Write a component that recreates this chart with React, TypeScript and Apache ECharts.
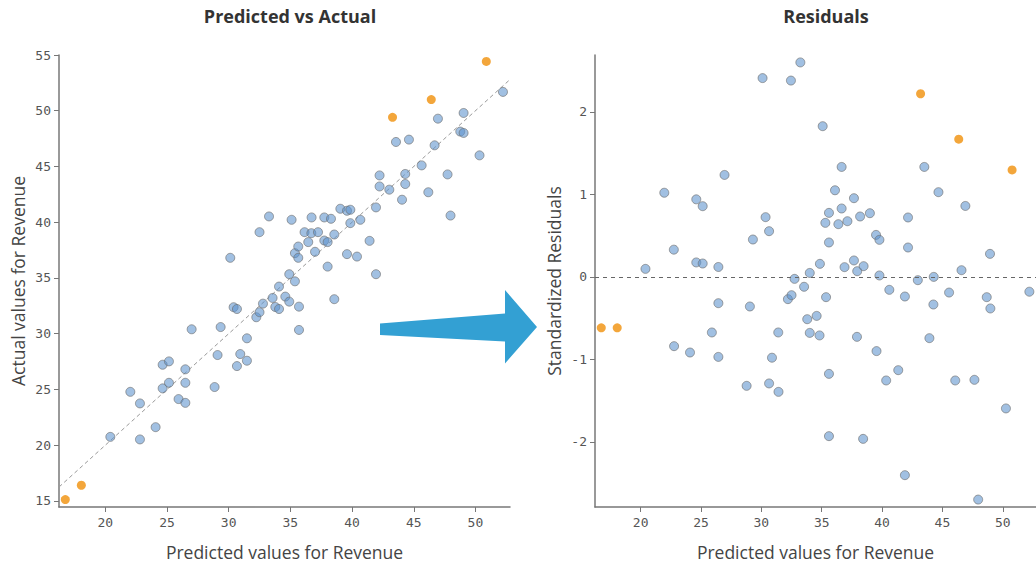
import React, { useEffect, useRef } from "react";
import * as echarts from "echarts";

// Predicted vs Actual: [predicted, actual]
const fitPoints: number[][] = [
  [20.41, 20.75], [22.03, 24.79], [22.81, 23.75], [22.81, 20.52], [24.08, 21.62],
  [24.65, 27.22], [24.65, 25.1], [25.16, 27.52], [25.16, 25.6], [25.94, 24.14],
  [26.49, 26.81], [26.49, 25.6], [26.49, 23.8], [27.0, 30.4], [28.86, 25.22],
  [29.1, 28.09], [29.35, 30.6], [30.13, 36.81], [30.4, 32.38], [30.67, 32.22],
  [30.67, 27.1], [30.94, 28.18], [31.48, 29.59], [31.48, 27.58], [32.24, 31.48],
  [32.5, 31.93], [32.5, 39.11], [32.78, 32.7], [33.27, 40.52], [33.56, 33.21],
  [33.78, 32.4], [34.08, 32.22], [34.08, 34.23], [34.59, 33.33], [34.91, 32.88],
  [34.91, 35.34], [35.1, 40.22], [35.37, 34.7], [35.37, 37.23], [35.64, 37.82],
  [35.64, 36.81], [35.7, 32.43], [35.7, 30.34], [36.15, 39.11], [36.45, 38.22],
  [36.7, 39.02], [36.72, 40.43], [37.0, 37.35], [37.24, 39.11], [37.75, 40.43],
  [37.75, 38.36], [38.02, 38.22], [38.02, 36.02], [38.29, 40.31], [38.56, 38.9],
  [38.56, 33.1], [39.05, 41.21], [39.59, 41.03], [39.59, 37.14], [39.86, 41.12],
  [39.86, 39.92], [40.4, 36.92], [40.67, 40.22], [41.42, 38.33], [41.94, 41.33],
  [41.94, 35.34], [42.23, 44.2], [42.23, 43.21], [43.02, 42.92], [43.56, 47.2],
  [44.05, 42.02], [44.31, 44.33], [44.31, 43.43], [44.61, 47.41], [45.64, 45.1],
  [46.18, 42.69], [46.69, 46.9], [46.96, 49.29], [47.74, 44.29], [47.98, 40.6],
  [48.77, 48.13], [49.04, 49.8], [49.04, 48.01], [50.33, 46.0], [52.23, 51.69],
];
const fitOutliers: number[][] = [
  [16.76, 15.13], [18.06, 16.41], [43.28, 49.41], [46.42, 51.0], [50.88, 54.42],
];

// Residuals: [predicted, standardized residual]
const residPoints: number[][] = [
  [20.4, 0.097], [21.96, 1.02], [22.75, 0.33], [22.77, -0.84], [24.09, -0.917],
  [24.61, 0.94], [24.61, 0.175], [25.14, 0.857], [25.14, 0.162], [25.9, -0.674],
  [26.44, 0.12], [26.44, -0.319], [26.44, -0.97], [26.95, 1.236], [28.78, -1.321],
  [29.05, -0.359], [29.3, 0.453], [30.1, 2.41], [30.35, 0.724], [30.64, 0.554],
  [30.64, -1.292], [30.88, -0.98], [31.4, -0.674], [31.42, -1.394], [32.2, -0.27],
  [32.45, 2.38], [32.5, -0.222], [32.75, -0.024], [33.23, 2.6], [33.54, -0.12],
  [33.8, -0.513], [34.01, 0.048], [34.01, -0.679], [34.58, -0.473], [34.82, -0.71],
  [34.85, 0.158], [35.08, 1.827], [35.3, 0.655], [35.36, -0.246], [35.6, 0.776],
  [35.6, 0.417], [35.6, -1.176], [35.6, -1.931], [36.1, 1.05], [36.38, 0.639],
  [36.65, 1.333], [36.65, 0.829], [36.89, 0.118], [37.13, 0.675], [37.67, 0.954],
  [37.67, 0.199], [37.92, -0.727], [37.94, 0.069], [38.18, 0.732], [38.43, -1.964],
  [38.47, 0.13], [38.99, 0.772], [39.5, 0.509], [39.54, -0.9], [39.78, 0.449],
  [39.78, 0.017], [40.34, -1.256], [40.6, -0.157], [41.34, -1.131], [41.89, -0.238],
  [41.89, -2.404], [42.15, 0.72], [42.15, 0.356], [42.96, -0.04], [43.5, 1.333],
  [43.92, -0.743], [44.25, -0.335], [44.28, 0.0], [44.67, 1.027], [45.55, -0.19],
  [46.06, -1.256], [46.58, 0.081], [46.9, 0.86], [47.65, -1.248], [47.96, -2.7],
  [48.67, -0.246], [48.94, 0.279], [48.97, -0.383], [50.26, -1.595], [52.2, -0.18],
];
const residOutliers: number[][] = [
  [16.74, -0.618], [18.06, -0.618], [43.19, 2.22], [46.35, 1.67], [50.77, 1.297],
];

const xTicks = [20, 25, 30, 35, 40, 45, 50];
const yTicksFit = [15, 20, 25, 30, 35, 40, 45, 50, 55];
const yTicksResid = [-2, -1, 0, 1, 2];
const identityLine = [16.25, 52.8];

const BLUE = "rgba(92,145,204,0.72)";
const ORANGE = "#f0900a";
const AXIS = "#777";
const MONO = "DejaVu Sans Mono";
const SANS = "Open Sans";

function valueAxis(gridIndex: number, min: number, max: number, ticks: number[], name: string, isY: boolean) {
  return {
    type: "value",
    gridIndex,
    min,
    max,
    name,
    nameLocation: "middle",
    nameGap: isY ? 32 : 36,
    nameTextStyle: { fontFamily: SANS, fontSize: 17.5, color: "#444" },
    splitLine: { show: false },
    axisLine: { show: true, onZero: false, lineStyle: { color: AXIS, width: 1.5 } },
    axisTick: { show: true, length: 5, lineStyle: { color: AXIS, width: 1 }, customValues: ticks },
    axisLabel: {
      fontFamily: MONO,
      fontSize: 13,
      color: "#555",
      margin: isY ? 8 : 9,
      customValues: ticks,
      showMinLabel: true,
      showMaxLabel: true,
    },
  };
}

const scatterStyle = (color: string, border: boolean) => ({
  color,
  borderColor: border ? "rgba(110,110,110,0.8)" : color,
  borderWidth: border ? 1 : 0,
});

const titleStyle = { fontFamily: SANS, fontSize: 18, fontWeight: "bold", color: "#333" };

export default function App() {
  const ref = useRef<HTMLDivElement>(null);
  useEffect(() => {
    document.body.style.margin = "0";
    if (!ref.current) return;
    const chart = echarts.init(ref.current, null, { renderer: "svg" });
    chart.setOption({
      animation: false,
      backgroundColor: "#fff",
      title: [
        { text: "Predicted vs Actual", left: 290, top: 7, padding: 0, textAlign: "center", textStyle: titleStyle },
        { text: "Residuals", left: 826, top: 7, padding: 0, textAlign: "center", textStyle: titleStyle },
      ],
      grid: [
        { left: 59, top: 55, width: 451, height: 452 },
        { left: 595, top: 55, width: 451, height: 452 },
      ],
      xAxis: [
        valueAxis(0, 16.25, 52.8, xTicks, "Predicted values for Revenue", false),
        valueAxis(1, 16.22, 52.75, xTicks, "Predicted values for Revenue", false),
      ],
      yAxis: [
        valueAxis(0, 14.46, 55, yTicksFit, "Actual values for Revenue", true),
        valueAxis(1, -2.79, 2.69, yTicksResid, "Standardized Residuals", true),
      ],
      graphic: [
        {
          type: "polygon",
          shape: {
            points: [
              [380, 323.5], [505, 313.5], [505, 290], [537, 327], [505, 363.5], [505, 341.5], [380, 335],
            ],
          },
          style: { fill: "#33a0d3" },
        },
      ],
      series: [
        {
          type: "line",
          xAxisIndex: 0,
          yAxisIndex: 0,
          data: identityLine.map((v) => [v, v]),
          symbol: "none",
          silent: true,
          lineStyle: { color: "#999", width: 1, type: [4, 3] },
          z: 1,
        },
        {
          type: "scatter",
          xAxisIndex: 0,
          yAxisIndex: 0,
          data: fitPoints,
          symbolSize: 9,
          itemStyle: scatterStyle(BLUE, true),
          z: 2,
        },
        {
          type: "scatter",
          xAxisIndex: 0,
          yAxisIndex: 0,
          data: fitOutliers,
          symbolSize: 9,
          itemStyle: scatterStyle(ORANGE, false),
          z: 3,
        },
        {
          type: "scatter",
          xAxisIndex: 1,
          yAxisIndex: 1,
          data: residPoints,
          symbolSize: 9,
          itemStyle: scatterStyle(BLUE, true),
          z: 2,
          markLine: {
            silent: true,
            symbol: "none",
            label: { show: false },
            lineStyle: { color: "#666", width: 1.2, type: [4, 4] },
            data: [{ yAxis: 0 }],
          },
        },
        {
          type: "scatter",
          xAxisIndex: 1,
          yAxisIndex: 1,
          data: residOutliers,
          symbolSize: 9,
          itemStyle: scatterStyle(ORANGE, false),
          z: 3,
        },
      ],
    });
    return () => chart.dispose();
  }, []);
  return (
    <div
      ref={ref}
      style={{ position: "fixed", left: 0, top: 0, width: 1036, height: 568, background: "#fff" }}
    />
  );
}
